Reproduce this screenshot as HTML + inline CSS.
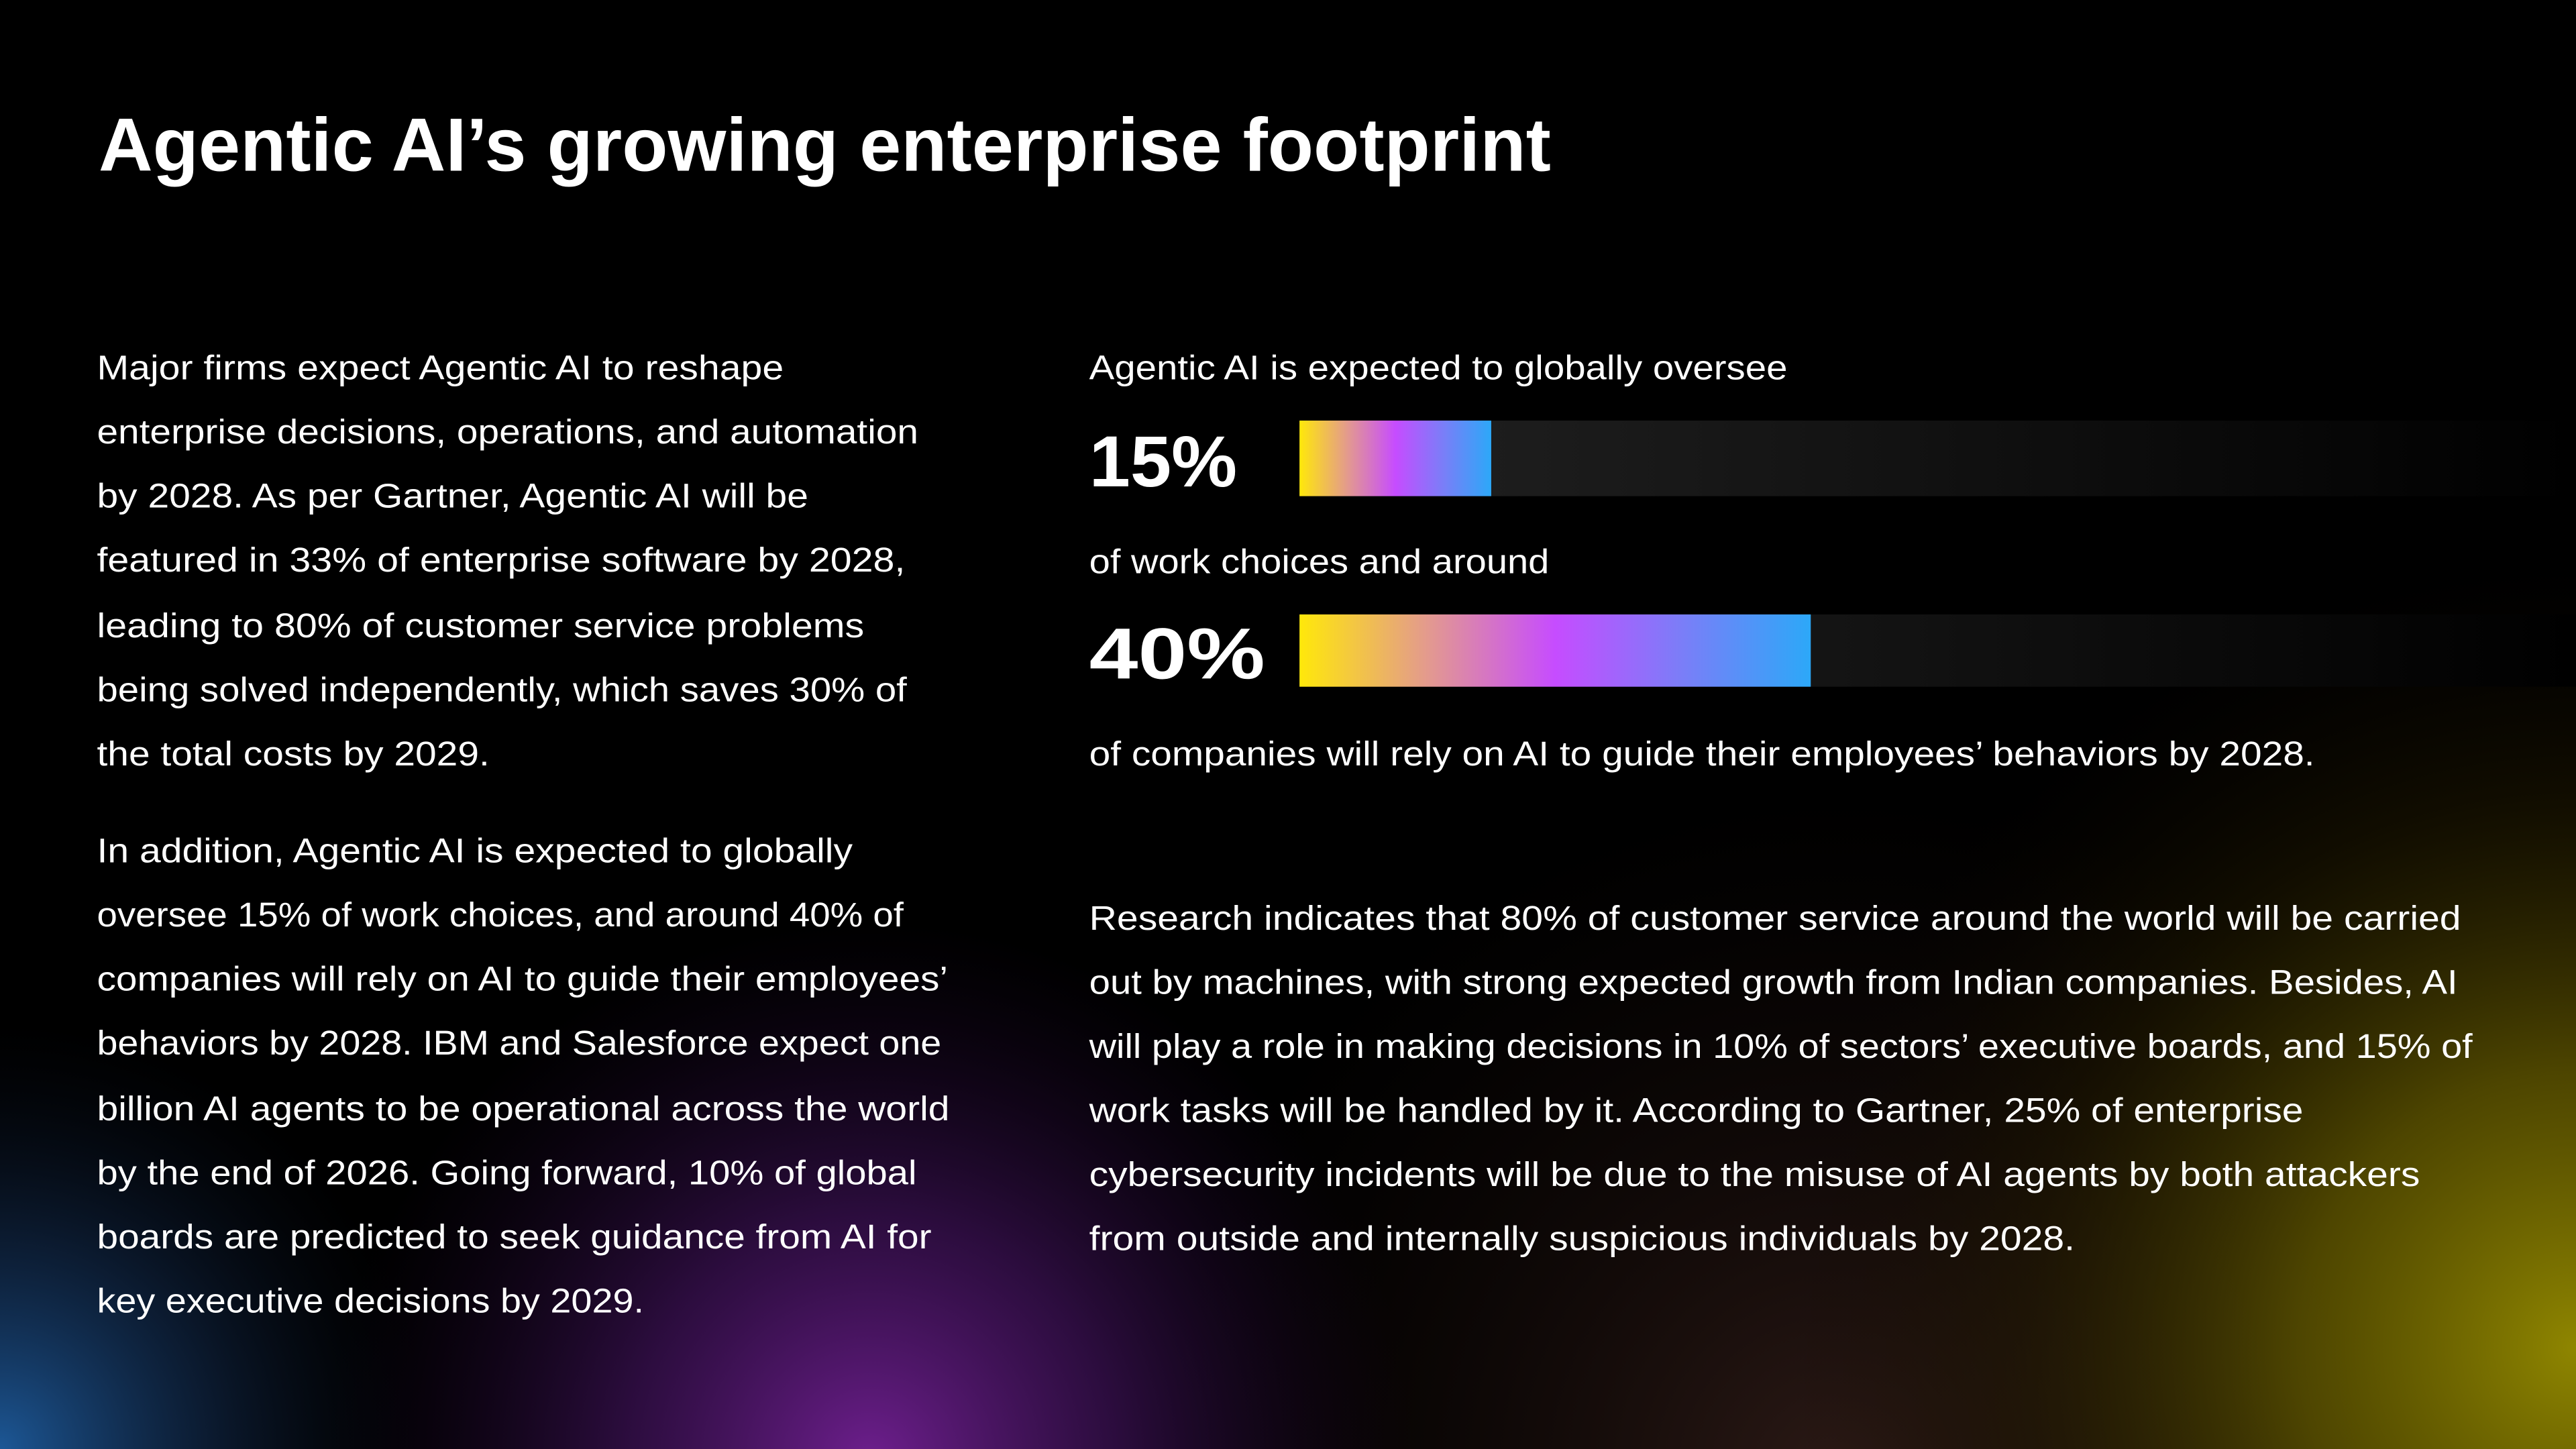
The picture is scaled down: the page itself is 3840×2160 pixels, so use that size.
<!DOCTYPE html>
<html><head><meta charset="utf-8">
<style>
html,body{margin:0;padding:0;background:#000;width:3840px;height:2160px;overflow:hidden}
svg{display:block;position:absolute;left:0;top:0}
text{font-family:"Liberation Sans",sans-serif;fill:#fff}
.b{font-size:21px}
</style></head>
<body>
<svg id="chart" width="3840" height="2160" viewBox="0 0 1568 882" xmlns="http://www.w3.org/2000/svg">
<defs>
<radialGradient id="gBlue" gradientUnits="userSpaceOnUse" cx="0" cy="882" r="260"><stop offset="0" stop-color="#1e5c9e" stop-opacity="0.95"/><stop offset="0.5" stop-color="#16345e" stop-opacity="0.5"/><stop offset="1" stop-color="#0a1020" stop-opacity="0"/></radialGradient>
<radialGradient id="gPurple" gradientUnits="userSpaceOnUse" cx="530" cy="890" r="330"><stop offset="0" stop-color="#6e1f8e" stop-opacity="1"/><stop offset="0.45" stop-color="#3f1259" stop-opacity="0.7"/><stop offset="1" stop-color="#1a0626" stop-opacity="0"/></radialGradient>
<radialGradient id="gOlive" gradientUnits="userSpaceOnUse" cx="1568" cy="820" r="480"><stop offset="0" stop-color="#8f8600" stop-opacity="1"/><stop offset="0.35" stop-color="#605600" stop-opacity="0.8"/><stop offset="0.7" stop-color="#2a2000" stop-opacity="0.4"/><stop offset="1" stop-color="#100800" stop-opacity="0"/></radialGradient>
<radialGradient id="gBrown" gradientUnits="userSpaceOnUse" cx="1120" cy="900" r="420"><stop offset="0" stop-color="#2c1a16" stop-opacity="1"/><stop offset="1" stop-color="#100806" stop-opacity="0"/></radialGradient>
<linearGradient id="barFill" x1="0" y1="0" x2="1" y2="0"><stop offset="0" stop-color="#ffe80a"/><stop offset="0.25" stop-color="#e39a8e"/><stop offset="0.5" stop-color="#c64cff"/><stop offset="0.75" stop-color="#7a7ef8"/><stop offset="1" stop-color="#2ca8f8"/></linearGradient>
<linearGradient id="track" x1="0" y1="0" x2="1" y2="0"><stop offset="0" stop-color="#222"/><stop offset="1" stop-color="#000"/></linearGradient>
</defs>
<rect width="1568" height="882" fill="#000"/>
<rect width="1568" height="882" fill="url(#gBrown)"/>
<rect width="1568" height="882" fill="url(#gPurple)"/>
<rect width="1568" height="882" fill="url(#gBlue)"/>
<rect width="1568" height="882" fill="url(#gOlive)"/>

<text x="60" y="104" font-size="46" font-weight="bold" textLength="884" lengthAdjust="spacingAndGlyphs">Agentic AI’s growing enterprise footprint</text>

<g class="b">
<text x="59" y="231" textLength="418" lengthAdjust="spacingAndGlyphs">Major firms expect Agentic AI to reshape</text>
<text x="59" y="270" textLength="500" lengthAdjust="spacingAndGlyphs">enterprise decisions, operations, and automation</text>
<text x="59" y="309" textLength="433" lengthAdjust="spacingAndGlyphs">by 2028. As per Gartner, Agentic AI will be</text>
<text x="59" y="348" textLength="492" lengthAdjust="spacingAndGlyphs">featured in 33% of enterprise software by 2028,</text>
<text x="59" y="388" textLength="467" lengthAdjust="spacingAndGlyphs">leading to 80% of customer service problems</text>
<text x="59" y="427" textLength="493" lengthAdjust="spacingAndGlyphs">being solved independently, which saves 30% of</text>
<text x="59" y="466" textLength="239" lengthAdjust="spacingAndGlyphs">the total costs by 2029.</text>
<text x="59" y="525" textLength="460" lengthAdjust="spacingAndGlyphs">In addition, Agentic AI is expected to globally</text>
<text x="59" y="564" textLength="491" lengthAdjust="spacingAndGlyphs">oversee 15% of work choices, and around 40% of</text>
<text x="59" y="603" textLength="518" lengthAdjust="spacingAndGlyphs">companies will rely on AI to guide their employees’</text>
<text x="59" y="642" textLength="514" lengthAdjust="spacingAndGlyphs">behaviors by 2028. IBM and Salesforce expect one</text>
<text x="59" y="682" textLength="519" lengthAdjust="spacingAndGlyphs">billion AI agents to be operational across the world</text>
<text x="59" y="721" textLength="499" lengthAdjust="spacingAndGlyphs">by the end of 2026. Going forward, 10% of global</text>
<text x="59" y="760" textLength="508" lengthAdjust="spacingAndGlyphs">boards are predicted to seek guidance from AI for</text>
<text x="59" y="799" textLength="333" lengthAdjust="spacingAndGlyphs">key executive decisions by 2029.</text>
</g>

<g class="b">
<text x="663" y="231" textLength="425" lengthAdjust="spacingAndGlyphs">Agentic AI is expected to globally oversee</text>
<text x="663" y="349" textLength="280" lengthAdjust="spacingAndGlyphs">of work choices and around</text>
<text x="663" y="466" textLength="746" lengthAdjust="spacingAndGlyphs">of companies will rely on AI to guide their employees’ behaviors by 2028.</text>
</g>

<g id="bars"></g>

<g class="b">
<text x="663" y="566" textLength="835" lengthAdjust="spacingAndGlyphs">Research indicates that 80% of customer service around the world will be carried</text>
<text x="663" y="605" textLength="833" lengthAdjust="spacingAndGlyphs">out by machines, with strong expected growth from Indian companies. Besides, AI</text>
<text x="663" y="644" textLength="842" lengthAdjust="spacingAndGlyphs">will play a role in making decisions in 10% of sectors’ executive boards, and 15% of</text>
<text x="663" y="683" textLength="739" lengthAdjust="spacingAndGlyphs">work tasks will be handled by it. According to Gartner, 25% of enterprise</text>
<text x="663" y="722" textLength="810" lengthAdjust="spacingAndGlyphs">cybersecurity incidents will be due to the misuse of AI agents by both attackers</text>
<text x="663" y="761" textLength="600" lengthAdjust="spacingAndGlyphs">from outside and internally suspicious individuals by 2028.</text>
</g>
</svg>
<script>
const barValues = [15, 40];
const barLabels = ["15%", "40%"];
const barNames = ["bar-work-choices", "bar-companies"];

(function(){
  const NS = "http://www.w3.org/2000/svg";
  const g = document.getElementById("bars");
  const x0 = 791, pxPerPct = 7.78;
  const xScale = v => v * pxPerPct;
  const rows = [{y:256,h:46,lab:296,lw:90},{y:374,h:44,lab:413,lw:107}];
  barValues.forEach((v,i)=>{
    const r = rows[i];
    const track = document.createElementNS(NS,"rect");
    track.setAttribute("x",x0); track.setAttribute("y",r.y);
    track.setAttribute("width",xScale(100)); track.setAttribute("height",r.h);
    track.setAttribute("fill","url(#track)");
    
    
    g.appendChild(track);
    const bar = document.createElementNS(NS,"rect");
    bar.setAttribute("x",x0); bar.setAttribute("y",r.y);
    bar.setAttribute("width",xScale(v)); bar.setAttribute("height",r.h);
    bar.setAttribute("fill","url(#barFill)");
    
    
    g.appendChild(bar);
    const t = document.createElementNS(NS,"text");
    t.setAttribute("x",663); t.setAttribute("y",r.lab);
    t.setAttribute("font-size","44"); t.setAttribute("font-weight","bold");
    t.setAttribute("textLength",r.lw); t.setAttribute("lengthAdjust","spacingAndGlyphs");
    t.textContent = barLabels[i];
    
    
    g.appendChild(t);
  });
})();
</script>
</body></html>
